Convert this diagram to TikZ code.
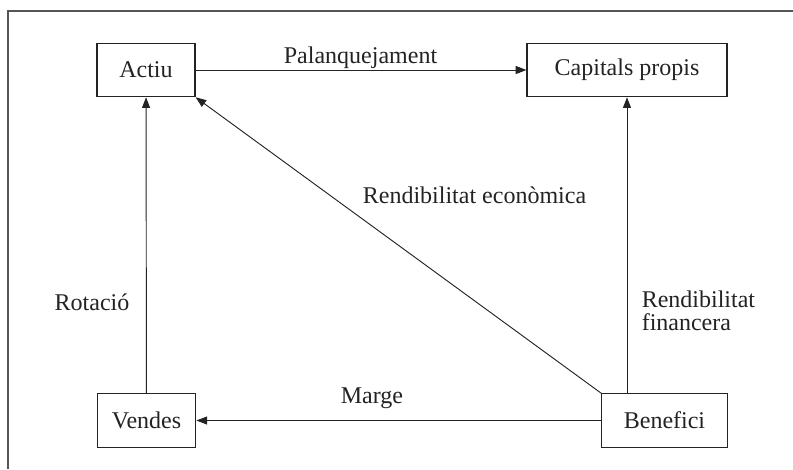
\documentclass[tikz,border=0pt]{standalone}
\usepackage{fontspec}
\setmainfont{Liberation Serif}
\usetikzlibrary{arrows.meta}
\definecolor{framegray}{RGB}{85,85,85}
\definecolor{inkgray}{RGB}{35,35,35}

\begin{document}
\begin{tikzpicture}[x=.75pt,y=-.75pt,>={Triangle[length=8pt,width=6pt]},
 bloc/.style={draw=inkgray,line width=.9pt,minimum height=40pt,inner sep=0pt,
  font=\fontsize{18}{17}\selectfont,text=inkgray},
 etiq/.style={font=\fontsize{18}{17}\selectfont,inner sep=0pt,text=inkgray},
 fletxa/.style={->,inkgray,line width=.7pt}]
 \useasboundingbox (0,0) rectangle (793,469);
 \draw[framegray,line width=1.1pt] (8,469) -- (8,11) -- (793,11);
 \node[bloc,minimum width=73.5pt] (actiu) at (146,70) {Actiu};
 \node[bloc,minimum width=150pt] (capitals) at (627,70) {Capitals propis};
 \node[bloc,minimum width=74pt] (vendes) at (146.5,420.5) {Vendes};
 \node[bloc,minimum width=94pt] (benefici) at (664.5,420.5) {Benefici};
 \draw[fletxa] (actiu) -- (capitals);
 \draw[fletxa] (vendes) -- (actiu);
 \draw[fletxa] (benefici.north -| capitals) -- (capitals.south);
 \draw[fletxa] (benefici) -- (vendes);
 \draw[fletxa] (benefici.north west) -- (actiu.south east);
 \node[etiq,anchor=base] (palanq) at (360.5,63) {Palanquejament};
 \node[etiq,anchor=base] (recon) at (474.5,203) {Rendibilitat econòmica};
 \node[etiq,anchor=base] (rotacio) at (92,310.5) {Rotació};
 \node[etiq,anchor=base] (marge) at (372,403) {Marge};
 \node[etiq,anchor=west,align=left] (rfin) at (641.5,311)
  {Rendibilitat\\financera};
\end{tikzpicture}
\end{document}
